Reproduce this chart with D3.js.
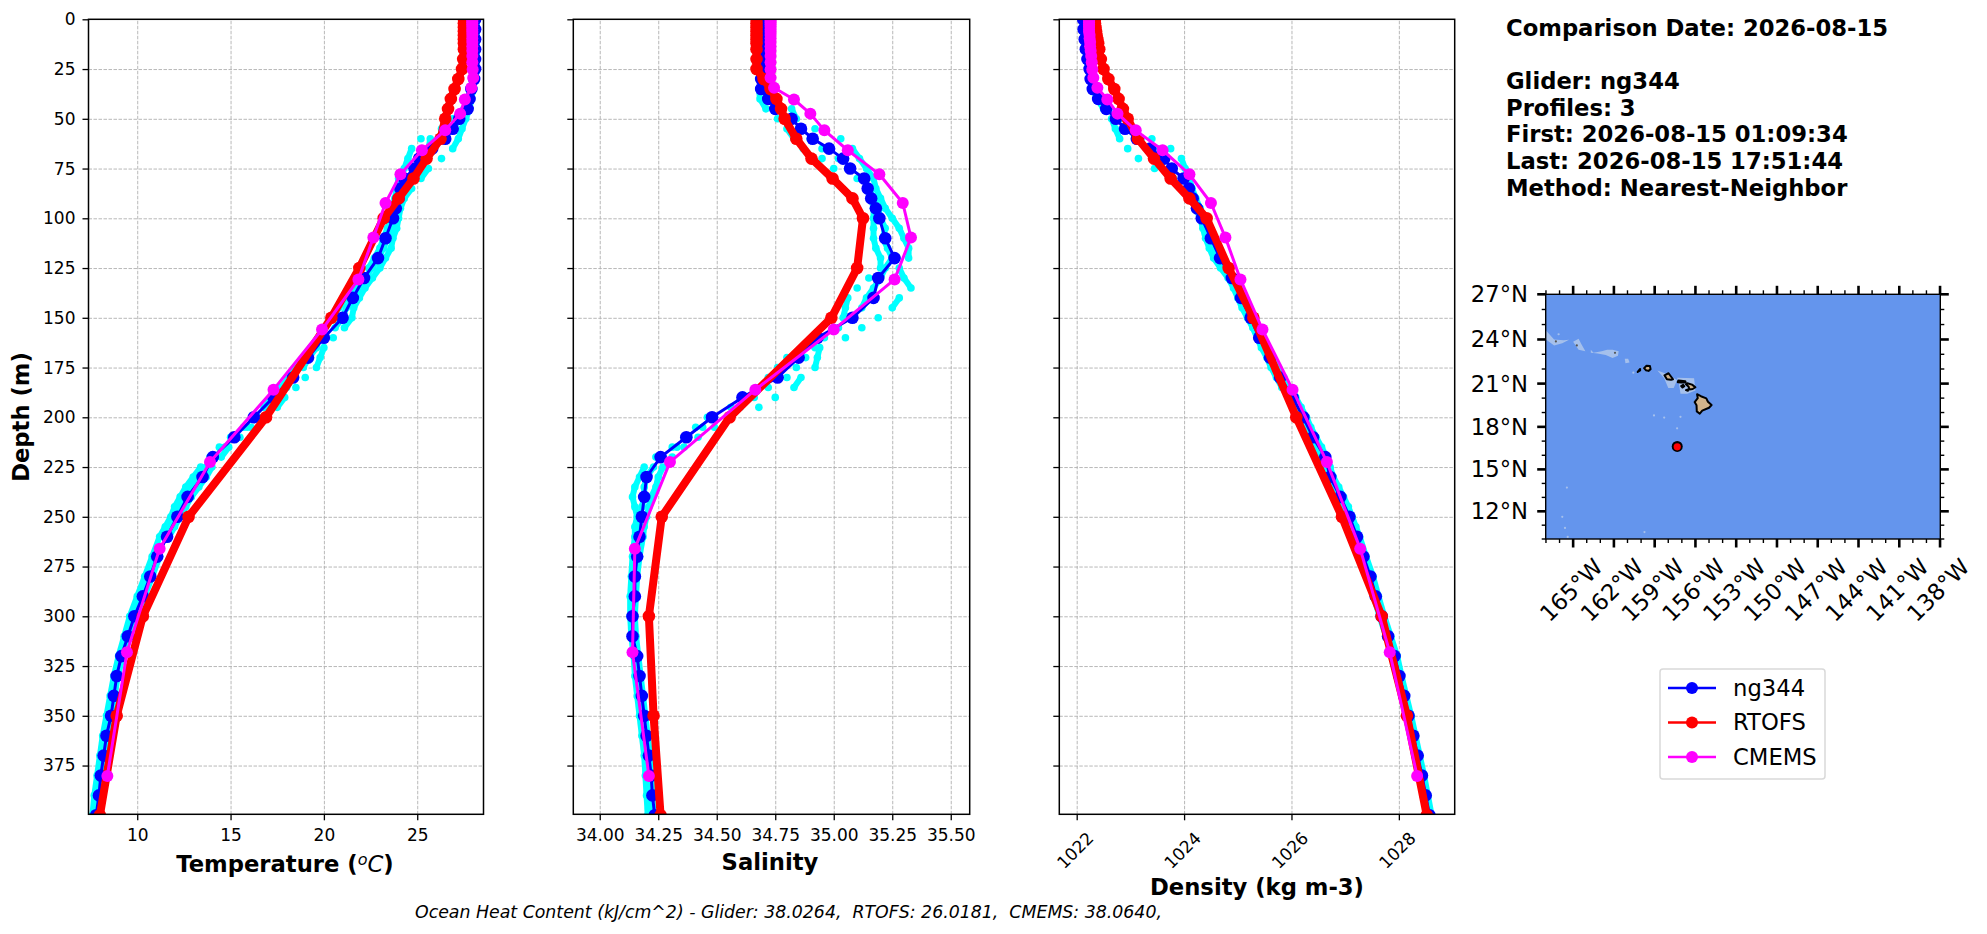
<!DOCTYPE html>
<html>
<head>
<meta charset="utf-8">
<script src="https://cdn.jsdelivr.net/npm/d3@7"></script>
<style>
    body { margin: 0; background: #fff; }
    text { font-family: "DejaVu Sans"; fill: #000; white-space: pre; }
</style>
</head>
<body>
<div id="chart"></div>
<script>
// depth ticks shared by the three profile panels
const depthTicks = [0, 25, 50, 75, 100, 125, 150, 175, 200, 225, 250, 275, 300, 325, 350, 375];
const tempTicks = [10, 15, 20, 25];
const salTicks = [34.0, 34.25, 34.5, 34.75, 35.0, 35.25, 35.5];
const densTicks = [1022, 1024, 1026, 1028];

// glider mean profile
const gliderDepths = [0, 5, 10, 15, 20, 25, 30, 35, 40, 45, 50, 55, 60, 65, 70, 75, 80, 85, 90, 95, 100,
    110, 120, 130, 140, 150, 160, 170, 180, 190, 200, 210, 220, 230, 240, 250, 260, 270, 280, 290, 300,
    310, 320, 330, 340, 350, 360, 370, 380, 390, 400];
const gliderTemp = [28.1, 28.1, 28.1, 28.1, 28.1, 28.1, 28.05, 27.9, 27.8, 27.7, 27.25, 26.9, 26.5, 25.8, 25.1, 24.85, 24.3, 24.1, 24.0, 23.85, 23.7,
    23.3, 22.9, 22.15, 21.55, 21.0, 20.0, 19.15, 18.35, 17.3, 16.25, 15.2, 14.05, 13.5, 12.7, 12.15, 11.6, 11.07, 10.7, 10.3, 9.85,
    9.5, 9.15, 8.9, 8.75, 8.6, 8.35, 8.2, 8.05, 7.95, 7.8];
const gliderSal = [34.7, 34.7, 34.7, 34.7, 34.7, 34.7, 34.69, 34.69, 34.72, 34.75, 34.82, 34.86, 34.91, 34.98, 35.04, 35.07, 35.13, 35.145, 35.16, 35.18, 35.195,
    35.22, 35.26, 35.19, 35.17, 35.08, 34.93, 34.85, 34.76, 34.61, 34.48, 34.37, 34.26, 34.2, 34.19, 34.18, 34.17, 34.16, 34.15, 34.15, 34.14,
    34.14, 34.16, 34.17, 34.18, 34.19, 34.2, 34.21, 34.22, 34.225, 34.235];
const gliderDens = [1022.12, 1022.13, 1022.15, 1022.17, 1022.2, 1022.24, 1022.26, 1022.3, 1022.4, 1022.55, 1022.73, 1022.9, 1023.12, 1023.37, 1023.63, 1023.77, 1023.99, 1024.09, 1024.16, 1024.24, 1024.33,
    1024.5, 1024.67, 1024.89, 1025.06, 1025.24, 1025.4, 1025.6, 1025.79, 1026.02, 1026.22, 1026.4, 1026.63, 1026.72, 1026.91, 1027.08, 1027.22, 1027.34, 1027.47, 1027.57, 1027.68,
    1027.8, 1027.92, 1028.01, 1028.1, 1028.18, 1028.27, 1028.35, 1028.43, 1028.5, 1028.57];

// RTOFS levels
const rtofsDepths = [0, 2, 4, 6, 8, 10, 12, 15, 20, 25, 30, 35, 40, 45, 50, 60, 70, 80, 90, 100, 125, 150, 200, 250, 300, 350, 400];
const rtofsTemp = [27.5, 27.5, 27.5, 27.5, 27.5, 27.5, 27.5, 27.5, 27.46, 27.4, 27.2, 27.0, 26.8, 26.65, 26.5, 26.25, 25.5, 24.8, 24.0, 23.2, 21.9, 20.4, 16.9, 12.75, 10.3, 8.9, 8.0];
const rtofsSal = [34.67, 34.67, 34.67, 34.67, 34.67, 34.67, 34.67, 34.67, 34.67, 34.67, 34.7, 34.73, 34.755, 34.775, 34.79, 34.84, 34.905, 34.995, 35.08, 35.125, 35.1, 34.99, 34.555, 34.265, 34.21, 34.23, 34.26];
const rtofsDens = [1022.34, 1022.34, 1022.35, 1022.36, 1022.37, 1022.385, 1022.4, 1022.42, 1022.45, 1022.5, 1022.59, 1022.7, 1022.78, 1022.86, 1022.95, 1023.14, 1023.44, 1023.75, 1024.1, 1024.42, 1024.83, 1025.29, 1026.09, 1026.94, 1027.68, 1028.15, 1028.52];

// CMEMS levels
const cmemsDepths = [0.5, 1.5, 2.6, 3.8, 5.1, 6.4, 7.9, 9.6, 11.4, 13.5, 15.8, 18.5, 21.6, 25.2, 29.4, 34.4, 40.3, 47.4, 55.8, 65.8, 77.9, 92.3, 109.7, 130.7, 155.9, 186.1, 222.5, 266.0, 318.1, 380.2];
const cmemsTemp = [27.95, 27.95, 27.95, 27.95, 27.95, 27.95, 27.95, 27.95, 27.95, 27.95, 27.95, 27.95, 27.95, 27.97, 28.0, 27.9, 27.55, 27.3, 26.5, 25.25, 24.1, 23.3, 22.65, 21.85, 19.9, 17.3, 13.9, 11.2, 9.45, 8.4];
const cmemsSal = [34.73, 34.73, 34.73, 34.73, 34.73, 34.73, 34.73, 34.73, 34.73, 34.73, 34.73, 34.73, 34.73, 34.73, 34.73, 34.745, 34.83, 34.9, 34.96, 35.06, 35.195, 35.295, 35.33, 35.26, 35.0, 34.665, 34.3, 34.15, 34.14, 34.21];
const cmemsDens = [1022.23, 1022.23, 1022.23, 1022.23, 1022.23, 1022.23, 1022.24, 1022.24, 1022.25, 1022.25, 1022.26, 1022.27, 1022.28, 1022.29, 1022.31, 1022.385, 1022.57, 1022.76, 1023.1, 1023.6, 1024.1, 1024.5, 1024.77, 1025.05, 1025.46, 1026.02, 1026.66, 1027.28, 1027.83, 1028.34];

// the three individual glider profiles, all on the same depths
const profileDepths = [0, 10, 20, 30,
    35, 40, 45, 50, 55, 60, 65, 70, 75, 80,
    85, 90, 95, 100, 105, 110, 115, 120, 125, 130,
    135, 140, 145, 150, 155, 160, 165, 170, 175, 180,
    185, 190, 195, 200, 205, 210, 215, 220, 225, 230,
    235, 240, 245, 250, 255, 260, 270, 280, 290, 300,
    310, 320, 330, 340, 350, 360, 370, 380, 390, 400];
const profileTempA = [28.1, 28.1, 28.1, 28.0,
    27.9, 27.8, 27.5, 26.9, 26.3, 25.2, 24.7, 24.5, 24.3, 24.0,
    23.9, 23.8, 23.7, 23.6, 23.4, 23.2, 23.0, 22.7, 22.4, 21.9,
    21.6, 21.2, 20.8, 20.4, 20.0, 19.7, 19.3, 18.9, 18.5, 18.1,
    17.7, 17.2, 16.8, 16.3, 15.7, 15.0, 14.4, 13.9, 13.4, 13.0,
    12.6, 12.3, 12.0, 11.8, 11.5, 11.2, 10.8, 10.4, 10.0, 9.6,
    9.3, 9.0, 8.75, 8.55, 8.35, 8.15, 8.0, 7.85, 7.7, 7.6];
const profileTempB = [28.2, 28.2, 28.2, 28.1,
    28.0, 27.9, 27.7, 27.3, 26.9, 25.7, 25.6, 25.2, 24.9, 24.4,
    24.1, 24.0, 23.9, 23.8, 23.6, 23.4, 23.2, 22.9, 22.6, 22.2,
    21.9, 21.6, 21.2, 21.0, 20.6, 20.1, 19.6, 19.2, 18.9, 18.4,
    18.0, 17.4, 17.0, 16.5, 15.9, 15.3, 14.7, 14.2, 13.7, 13.3,
    12.9, 12.6, 12.3, 12.0, 11.7, 11.5, 11.0, 10.6, 10.2, 9.8,
    9.45, 9.1, 8.85, 8.7, 8.5, 8.3, 8.15, 8.0, 7.85, 7.75];
const profileTempC = [28.2, 28.2, 28.15, 28.1,
    28.0, 27.9, 27.8, 27.6, 27.4, 27.2, 26.9, 26.3, 25.6, 25.2,
    24.7, 24.3, 24.1, 24.0, 23.9, 23.7, 23.6, 23.3, 23.0, 22.6,
    22.2, 21.9, 21.6, 21.5, 21.1, 20.5, 20.0, 19.8, 19.6, 19.0,
    18.5, 17.9, 17.5, 17.0, 16.1, 15.5, 14.9, 14.5, 14.0, 13.7,
    13.3, 12.9, 12.6, 12.3, 12.0, 11.7, 11.2, 10.8, 10.4, 10.0,
    9.6, 9.25, 8.95, 8.8, 8.65, 8.45, 8.3, 8.15, 8.0, 7.9];
const profileSalA = [34.7, 34.7, 34.7, 34.7,
    34.68, 34.685, 34.71, 34.76, 34.8, 34.83, 34.87, 34.95, 35.0, 35.1,
    35.14, 35.16, 35.17, 35.17, 35.17, 35.17, 35.18, 35.2, 35.2, 35.15,
    35.1, 35.06, 35.05, 35.04, 35.0, 34.92, 34.87, 34.8, 34.76, 34.72,
    34.68, 34.62, 34.56, 34.46, 34.41, 34.36, 34.31, 34.24, 34.19, 34.17,
    34.15, 34.14, 34.15, 34.16, 34.15, 34.15, 34.14, 34.135, 34.13, 34.13,
    34.135, 34.145, 34.15, 34.16, 34.17, 34.18, 34.19, 34.195, 34.2, 34.205];
const profileSalB = [34.71, 34.71, 34.71, 34.71,
    34.7, 34.72, 34.76, 34.8, 34.85, 34.9, 34.95, 35.02, 35.06, 35.13,
    35.15, 35.17, 35.19, 35.2, 35.22, 35.21, 35.23, 35.25, 35.22, 35.2,
    35.17, 35.14, 35.12, 35.08, 35.02, 34.96, 34.92, 34.88, 34.84, 34.8,
    34.72, 34.66, 34.6, 34.49, 34.44, 34.38, 34.33, 34.27, 34.23, 34.2,
    34.19, 34.19, 34.18, 34.17, 34.17, 34.16, 34.155, 34.15, 34.14, 34.14,
    34.145, 34.155, 34.165, 34.175, 34.185, 34.195, 34.205, 34.21, 34.215, 34.22];
const profileSalC = [34.7, 34.7, 34.7, 34.7,
    34.71, 34.76, 34.82, 34.84, 34.92, 35.03, 35.08, 35.11, 35.14, 35.17,
    35.18, 35.2, 35.22, 35.25, 35.28, 35.3, 35.32, 35.32, 35.28, 35.3,
    35.33, 35.28, 35.25, 35.19, 35.12, 35.05, 34.94, 34.93, 34.92, 34.86,
    34.83, 34.75, 34.68, 34.55, 34.49, 34.42, 34.36, 34.31, 34.27, 34.25,
    34.24, 34.22, 34.21, 34.2, 34.19, 34.185, 34.17, 34.16, 34.155, 34.15,
    34.155, 34.165, 34.175, 34.185, 34.195, 34.205, 34.215, 34.22, 34.225, 34.23];
const profileDensA = [1022.1, 1022.13, 1022.18, 1022.25,
    1022.3, 1022.38, 1022.5, 1022.65, 1022.72, 1022.8, 1022.95, 1023.15, 1023.45, 1023.8,
    1024.05, 1024.15, 1024.22, 1024.3, 1024.35, 1024.4, 1024.47, 1024.55, 1024.68, 1024.82,
    1024.92, 1025.0, 1025.08, 1025.18, 1025.28, 1025.36, 1025.44, 1025.54, 1025.62, 1025.72,
    1025.82, 1025.96, 1026.06, 1026.16, 1026.24, 1026.34, 1026.44, 1026.55, 1026.62, 1026.68,
    1026.76, 1026.86, 1026.96, 1027.03, 1027.1, 1027.18, 1027.3, 1027.42, 1027.53, 1027.64,
    1027.76, 1027.88, 1027.97, 1028.06, 1028.14, 1028.23, 1028.31, 1028.39, 1028.46, 1028.53];
const profileDensB = [1022.12, 1022.15, 1022.2, 1022.26,
    1022.3, 1022.4, 1022.55, 1022.72, 1022.9, 1023.2, 1023.5, 1023.6, 1023.8, 1024.0,
    1024.1, 1024.18, 1024.26, 1024.33, 1024.42, 1024.5, 1024.57, 1024.65, 1024.75, 1024.88,
    1024.98, 1025.06, 1025.15, 1025.23, 1025.32, 1025.4, 1025.5, 1025.6, 1025.68, 1025.78,
    1025.88, 1026.02, 1026.12, 1026.22, 1026.3, 1026.4, 1026.5, 1026.62, 1026.68, 1026.73,
    1026.82, 1026.92, 1027.0, 1027.08, 1027.15, 1027.22, 1027.34, 1027.47, 1027.57, 1027.68,
    1027.8, 1027.92, 1028.01, 1028.1, 1028.18, 1028.27, 1028.35, 1028.43, 1028.5, 1028.57];
const profileDensC = [1022.14, 1022.17, 1022.22, 1022.28,
    1022.32, 1022.42, 1022.6, 1022.8, 1023.0, 1023.4, 1023.75, 1023.95, 1024.02, 1024.1,
    1024.15, 1024.22, 1024.3, 1024.37, 1024.48, 1024.55, 1024.62, 1024.7, 1024.8, 1024.94,
    1025.04, 1025.12, 1025.2, 1025.28, 1025.37, 1025.45, 1025.55, 1025.66, 1025.76, 1025.86,
    1025.95, 1026.08, 1026.18, 1026.28, 1026.36, 1026.46, 1026.56, 1026.66, 1026.72, 1026.78,
    1026.88, 1026.97, 1027.06, 1027.13, 1027.2, 1027.27, 1027.39, 1027.52, 1027.62, 1027.73,
    1027.85, 1027.97, 1028.05, 1028.14, 1028.23, 1028.31, 1028.39, 1028.47, 1028.54, 1028.61];

// map data, lon/lat
const lonTicks = [-165, -162, -159, -156, -153, -150, -147, -144, -141, -138];
const latTicks = [27, 24, 21, 18, 15, 12];
const lonMinor = [-167, -166, -164, -163, -161, -160, -158, -157, -155, -154, -152, -151, -149, -148, -146, -145, -143, -142, -140, -139];
const latMinor = [26, 25, 23, 22, 20, 19, 17, 16, 14, 13, 11, 10];
const islands = [
    [[-155.88, 20.27], [-155.6, 20.13], [-155.2, 19.98], [-155.08, 19.75], [-154.81, 19.52], [-155.0, 19.33], [-155.5, 19.13], [-155.68, 18.92], [-155.9, 19.08], [-155.92, 19.5], [-156.06, 19.73], [-155.83, 20.0]],
    [[-156.7, 20.95], [-156.6, 21.03], [-156.25, 20.93], [-156.0, 20.75], [-156.2, 20.63], [-156.45, 20.6], [-156.5, 20.78]],
    [[-157.3, 21.1], [-157.25, 21.22], [-156.75, 21.17], [-156.72, 21.08], [-157.05, 21.08]],
    [[-157.05, 20.83], [-156.9, 20.92], [-156.82, 20.82], [-156.95, 20.73]],
    [[-156.7, 20.55], [-156.55, 20.6], [-156.55, 20.5]],
    [[-158.28, 21.57], [-157.98, 21.71], [-157.65, 21.3], [-157.8, 21.26], [-158.1, 21.3]],
    [[-159.78, 22.06], [-159.6, 22.22], [-159.35, 22.2], [-159.3, 21.98], [-159.45, 21.87], [-159.65, 21.92]],
    [[-160.25, 21.8], [-160.07, 22.0], [-160.07, 21.9]]
];
const shoals = [
    [[-167, 24.6], [-166.4, 24.0], [-165.7, 23.95], [-165.3, 23.98], [-165.8, 23.75], [-166.4, 23.6], [-167, 24.0]],
    [[-165, 23.85], [-164.6, 24.05], [-164.4, 23.7], [-164.1, 23.2], [-164.6, 23.3]],
    [[-163.7, 23.3], [-163.5, 23.1], [-162.9, 23.2], [-162.5, 23.3], [-162.1, 23.3], [-161.65, 23.2], [-161.7, 22.9], [-162.1, 22.75], [-162.6, 22.95], [-163.2, 23.05], [-163.7, 23.1]],
    [[-161.2, 22.7], [-160.95, 22.7], [-160.85, 22.45], [-161.15, 22.4]],
    [[-158.8, 21.9], [-158.2, 21.7], [-157.35, 21.25], [-157.6, 20.7], [-158.0, 20.7], [-158.3, 21.37]],
    [[-157.35, 21.4], [-156.1, 21.37], [-156.0, 20.53], [-156.6, 20.3], [-157.1, 20.3], [-157.2, 20.9]]
];
const shoalDots = [[-159.05, 18.8], [-158.3, 18.65], [-157.1, 18.7], [-157.35, 17.9], [-165.46, 13.7], [-165.8, 11.6], [-165.6, 10.8], [-159.75, 10.5], [-165.4, 10.15], [-166.07, 24.35], [-160.57, 21.75]];
const atollDots = [[-166.27, 23.87], [-164.73, 23.6], [-161.92, 23.1]];
const gliderPosition = [-157.34, 16.6];

const infoLines = ["Comparison Date: 2026-08-15", "", "Glider: ng344", "Profiles: 3", "First: 2026-08-15 01:09:34", "Last: 2026-08-15 17:51:44", "Method: Nearest-Neighbor"];
const legendNames = ["ng344", "RTOFS", "CMEMS"];
const legendColors = ["blue", "red", "magenta"];

let svg = d3.select("#chart")
    .append("svg")
    .attr("width", 1987)
    .attr("height", 934)
    .style("display", "block");

// depth scale shared by the panels
const top_ = 19.3, bottom = 814.3;
const yScale = d3.scaleLinear().domain([0, 399.5]).range([top_, bottom]);

function zip(depths, values) {
    return depths.map((d, i) => ({depth: d, value: values[i]}));
}

function drawPanel(id, left, right, xDomain, ticks, tickFormat, series) {
    const xScale = d3.scaleLinear().domain(xDomain).range([left, right]);
    const g = svg.append("g").attr("id", id);
    const h = bottom - top_, w = right - left;

    // grid
    g.append("g")
        .attr("class", "grid")
        .attr("transform", "translate(0," + bottom + ")")
        .call(d3.axisBottom(xScale).tickValues(ticks).tickSize(-h).tickFormat(""))
        .call(a => a.select(".domain").remove());
    g.append("g")
        .attr("class", "grid")
        .attr("transform", "translate(" + left + ",0)")
        .call(d3.axisLeft(yScale).tickValues(depthTicks.slice(1)).tickSize(-w).tickFormat(""))
        .call(a => a.select(".domain").remove());
    g.selectAll(".grid line")
        .attr("stroke", "#b0b0b0")
        .attr("stroke-width", 0.9)
        .attr("stroke-dasharray", "3.5,1.5");

    g.append("clipPath").attr("id", "clip-" + id)
        .append("rect").attr("x", left).attr("y", top_).attr("width", w).attr("height", h);
    const marks = g.append("g").attr("clip-path", "url(#clip-" + id + ")");

    const line = d3.line().x(d => xScale(d.value)).y(d => yScale(d.depth));

    // individual profiles: dots, joined up only where the samples stack nearly straight down
    series.profiles.forEach(values => {
        const data = zip(profileDepths, values);
        const joined = d3.pairs(data).filter(p => Math.abs(xScale(p[1].value) - xScale(p[0].value)) < 8);
        marks.selectAll(null)
            .data(joined)
            .enter().append("path")
            .attr("fill", "none")
            .attr("stroke", "cyan")
            .attr("stroke-width", 6)
            .attr("d", line);
        marks.selectAll(null)
            .data(data)
            .enter().append("circle")
            .attr("cx", d => xScale(d.value))
            .attr("cy", d => yScale(d.depth))
            .attr("r", 3.8)
            .attr("fill", "cyan");
    });

    series.means.forEach(s => {
        const data = zip(s.depths, s.values);
        marks.append("path")
            .datum(data)
            .attr("fill", "none")
            .attr("stroke", s.color)
            .attr("stroke-width", s.width)
            .attr("stroke-linejoin", "round")
            .attr("d", line);
        marks.selectAll(null)
            .data(data)
            .enter().append("circle")
            .attr("cx", d => xScale(d.value))
            .attr("cy", d => yScale(d.depth))
            .attr("r", s.r)
            .attr("fill", s.color);
    });

    // spines
    g.append("rect")
        .attr("x", left).attr("y", top_).attr("width", w).attr("height", h)
        .attr("fill", "none").attr("stroke", "#000").attr("stroke-width", 1.5);

    // axes
    let xAxis = g.append("g")
        .attr("transform", "translate(0," + bottom + ")")
        .call(d3.axisBottom(xScale).tickValues(ticks).tickSize(6).tickPadding(9).tickFormat(tickFormat));
    let yAxis = g.append("g")
        .attr("transform", "translate(" + left + ",0)")
        .call(d3.axisLeft(yScale).tickValues(depthTicks).tickSize(6).tickPadding(7));
    if (id !== "temp") yAxis.selectAll("text").remove();
    [xAxis, yAxis].forEach(a => {
        a.select(".domain").remove();
        a.selectAll("line").attr("stroke", "#000").attr("stroke-width", 1.3);
        a.selectAll("text").style("font-family", "DejaVu Sans").style("font-size", "17px").attr("fill", "#000");
    });
    return xAxis;
}

drawPanel("temp", 88.5, 483.5, [7.39, 28.55], tempTicks, d3.format("d"), {
    profiles: [profileTempA, profileTempB, profileTempC],
    means: [
        {depths: gliderDepths, values: gliderTemp, color: "blue", width: 3, r: 6.3},
        {depths: rtofsDepths, values: rtofsTemp, color: "red", width: 8, r: 6.3},
        {depths: cmemsDepths, values: cmemsTemp, color: "magenta", width: 3, r: 6}
    ]
});
drawPanel("sal", 573.3, 969.7, [33.887, 35.581], salTicks, d3.format(".2f"), {
    profiles: [profileSalA, profileSalB, profileSalC],
    means: [
        {depths: gliderDepths, values: gliderSal, color: "blue", width: 3, r: 6.3},
        {depths: rtofsDepths, values: rtofsSal, color: "red", width: 8, r: 6.3},
        {depths: cmemsDepths, values: cmemsSal, color: "magenta", width: 3, r: 6}
    ]
});
let densAxis = drawPanel("dens", 1059.3, 1454.7, [1021.676, 1029.04], densTicks, d3.format("d"), {
    profiles: [profileDensA, profileDensB, profileDensC],
    means: [
        {depths: gliderDepths, values: gliderDens, color: "blue", width: 3, r: 6.3},
        {depths: rtofsDepths, values: rtofsDens, color: "red", width: 8, r: 6.3},
        {depths: cmemsDepths, values: cmemsDens, color: "magenta", width: 3, r: 6}
    ]
});
// density labels are turned 45 degrees
densAxis.selectAll("text")
    .attr("text-anchor", "middle")
    .attr("dy", null)
    .attr("dominant-baseline", "central")
    .attr("y", 0)
    .attr("transform", "translate(-2,36) rotate(-45)");

// axis titles
function label(x, y, str, size) {
    return svg.append("text")
        .attr("x", x).attr("y", y)
        .attr("text-anchor", "middle")
        .style("font-weight", "bold")
        .style("font-size", size + "px")
        .text(str);
}
let tempLabel = label(285, 872, "Temperature (", 22.7);
tempLabel.append("tspan").attr("dy", -7).style("font-size", "16px").style("font-weight", "normal").style("font-style", "italic").text("o");
tempLabel.append("tspan").attr("dy", 7).style("font-weight", "normal").style("font-style", "italic").text("C");
tempLabel.append("tspan").text(")");
label(770, 870, "Salinity", 22.7);
label(1257, 895, "Density (kg m-3)", 22.7);
label(0, 0, "Depth (m)", 22.7).attr("transform", "translate(29,417) rotate(-90)");

// footer
svg.append("text")
    .attr("x", 415).attr("y", 918)
    .style("font-style", "italic")
    .style("font-size", "17.35px")
    .text("Ocean Heat Content (kJ/cm^2) - Glider: 38.0264,  RTOFS: 26.0181,  CMEMS: 38.0640,");

// info block
svg.selectAll(".info")
    .data(infoLines)
    .enter().append("text")
    .attr("class", "info")
    .attr("x", 1506)
    .attr("y", (d, i) => 36 + i * 26.6)
    .style("font-weight", "bold")
    .style("font-size", "22.7px")
    .text(d => d);

// map
function drawMap() {
    const mapL = 1545.7, mapR = 1940.3, mapT = 294.3, mapB = 539;
    const projection = d3.geoMercator()
        .fitExtent([[mapL, mapT], [mapR, mapB]], {type: "MultiPoint", coordinates: [[-167, 10], [-138, 27]]});
    const path = d3.geoPath(projection);
    const g = svg.append("g").attr("id", "map");
    // d3 fills the outside of a ring wound the wrong way, so check the area
    const polygon = ring => {
        const closed = ring.concat([ring[0]]);
        const poly = {type: "Polygon", coordinates: [closed]};
        return d3.geoArea(poly) > 2 * Math.PI ? {type: "Polygon", coordinates: [closed.slice().reverse()]} : poly;
    };

    g.append("clipPath").attr("id", "clip-map")
        .append("rect").attr("x", mapL).attr("y", mapT).attr("width", mapR - mapL).attr("height", mapB - mapT);
    const inner = g.append("g").attr("clip-path", "url(#clip-map)");

    inner.append("rect")
        .attr("x", mapL).attr("y", mapT).attr("width", mapR - mapL).attr("height", mapB - mapT)
        .attr("fill", "cornflowerblue");
    inner.selectAll(".shoal")
        .data(shoals)
        .enter().append("path")
        .attr("class", "shoal")
        .attr("d", d => path(polygon(d)))
        .attr("fill", "#a5c0ec");
    inner.selectAll(".shoal-dot")
        .data(shoalDots)
        .enter().append("circle")
        .attr("class", "shoal-dot")
        .attr("cx", d => projection(d)[0])
        .attr("cy", d => projection(d)[1])
        .attr("r", 1.1)
        .attr("fill", "#a5c0ec");
    inner.selectAll(".atoll")
        .data(atollDots)
        .enter().append("circle")
        .attr("class", "atoll")
        .attr("cx", d => projection(d)[0])
        .attr("cy", d => projection(d)[1])
        .attr("r", 1.1)
        .attr("fill", "#555");
    inner.selectAll(".island")
        .data(islands)
        .enter().append("path")
        .attr("class", "island")
        .attr("d", d => path(polygon(d)))
        .attr("fill", "tan")
        .attr("stroke", "#000")
        .attr("stroke-width", 2)
        .attr("stroke-linejoin", "round");

    const gp = projection(gliderPosition);
    inner.append("circle").attr("cx", gp[0]).attr("cy", gp[1] - 0.4).attr("r", 5.5).attr("fill", "#000");
    inner.append("circle").attr("cx", gp[0]).attr("cy", gp[1]).attr("r", 3.6).attr("fill", "red");

    g.append("rect")
        .attr("x", mapL).attr("y", mapT).attr("width", mapR - mapL).attr("height", mapB - mapT)
        .attr("fill", "none").attr("stroke", "#000").attr("stroke-width", 1.4);

    // ticks stick out on all four sides
    function tick(lon, lat, len, width) {
        const p = projection([lon === null ? -167 : lon, lat === null ? 10 : lat]);
        if (lon !== null) {
            [[mapT, mapT - len], [mapB, mapB + len]].forEach(e => {
                g.append("line").attr("x1", p[0]).attr("x2", p[0]).attr("y1", e[0]).attr("y2", e[1])
                    .attr("stroke", "#000").attr("stroke-width", width);
            });
        } else {
            [[mapL, mapL - len], [mapR, mapR + len]].forEach(e => {
                g.append("line").attr("y1", p[1]).attr("y2", p[1]).attr("x1", e[0]).attr("x2", e[1])
                    .attr("stroke", "#000").attr("stroke-width", width);
            });
        }
    }
    lonMinor.forEach(d => tick(d, null, 4, 1.4));
    latMinor.forEach(d => tick(null, d, 4, 1.4));
    lonTicks.forEach(d => tick(d, null, 8.5, 2.6));
    latTicks.forEach(d => tick(null, d, 8.5, 2.6));

    g.selectAll(".lat-label")
        .data(latTicks)
        .enter().append("text")
        .attr("class", "lat-label")
        .attr("x", 1528)
        .attr("y", d => projection([-167, d])[1])
        .attr("dominant-baseline", "central")
        .attr("text-anchor", "end")
        .style("font-size", "22.7px")
        .text(d => d + "°N");
    g.selectAll(".lon-label")
        .data(lonTicks)
        .enter().append("text")
        .attr("class", "lon-label")
        .attr("text-anchor", "middle")
        .attr("dominant-baseline", "central")
        .attr("transform", d => "translate(" + (projection([d, 10])[0] - 2) + ",590) rotate(-45)")
        .style("font-size", "22.7px")
        .text(d => Math.abs(d) + "°W");
}
drawMap();

// legend
let legend = svg.append("g").attr("id", "legend");
legend.append("rect")
    .attr("x", 1660).attr("y", 669).attr("width", 165).attr("height", 110).attr("rx", 3)
    .attr("fill", "#fff").attr("stroke", "#d9d9d9").attr("stroke-width", 1.5);
const legendY = d3.scalePoint().domain(legendNames).range([688, 757]);
legendNames.forEach((name, i) => {
    legend.append("line")
        .attr("x1", 1668).attr("x2", 1716)
        .attr("y1", legendY(name)).attr("y2", legendY(name))
        .attr("stroke", legendColors[i]).attr("stroke-width", 2.5);
    legend.append("circle")
        .attr("cx", 1692).attr("cy", legendY(name)).attr("r", 6)
        .attr("fill", legendColors[i]);
    legend.append("text")
        .attr("x", 1733).attr("y", legendY(name) + 7.5)
        .style("font-size", "22.7px")
        .text(name);
});
</script>
</body>
</html>
